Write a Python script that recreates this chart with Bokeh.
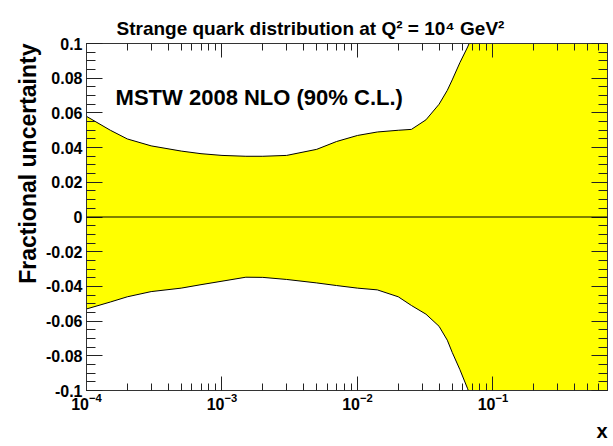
from bokeh.plotting import figure
from bokeh.models import (LogAxis, LinearAxis, FixedTicker, Title, Label, Span,
                          ColumnDataSource, Range1d)
from bokeh.embed import file_html
from bokeh.resources import INLINE

# ---- data ----
x_vals = [1e-4, 1.5e-4, 2e-4, 3e-4, 5e-4, 7e-4, 1e-3, 1.5e-3, 2e-3, 3e-3, 5e-3, 7e-3,
          1e-2, 1.4e-2, 2e-2, 2.5e-2, 3.2e-2, 4e-2, 4.6e-2, 5e-2, 5.7e-2, 6.5e-2, 7e-2,
          0.1, 0.2, 0.4, 0.7]
upper = [0.058, 0.050, 0.045, 0.041, 0.038, 0.0365, 0.0355, 0.035, 0.035, 0.0355, 0.039, 0.0435,
         0.047, 0.049, 0.050, 0.0505, 0.056, 0.065, 0.073, 0.079, 0.089, 0.098, 0.104,
         0.16, 0.30, 0.50, 0.80]
lower = [-0.053, -0.049, -0.046, -0.043, -0.041, -0.039, -0.037, -0.0347, -0.0348, -0.036, -0.038, -0.0395,
         -0.041, -0.042, -0.046, -0.051, -0.056, -0.063, -0.071, -0.078, -0.088, -0.099, -0.106,
         -0.16, -0.30, -0.50, -0.80]

y_major = [-0.1, -0.08, -0.06, -0.04, -0.02, 0.0, 0.02, 0.04, 0.06, 0.08, 0.1]
y_labels = ["-0.1", "-0.08", "-0.06", "-0.04", "-0.02", "0", "0.02", "0.04", "0.06", "0.08", "0.1"]
x_major = [1e-4, 1e-3, 1e-2, 1e-1]

title_text = "Strange quark distribution at Q\u00b2 = 10\u2074 GeV\u00b2"
ylabel_text = "Fractional uncertainty"
xlabel_text = "x"
note_text = "MSTW 2008 NLO (90% C.L.)"

FONT = "Liberation Sans"

y_minor = [round(-0.1 + 0.005 * i, 4) for i in range(41)]
x_minor = [m * d for d in [1e-4, 1e-3, 1e-2, 1e-1] for m in range(2, 10) if m * d <= 0.7]

p = figure(width=613, height=446, x_axis_type="log",
           x_range=Range1d(1e-4, 0.7), y_range=Range1d(-0.1, 0.1),
           output_backend="svg", toolbar_location=None,
           min_border_left=86, min_border_right=6, min_border_top=43, min_border_bottom=51)
p.xgrid.visible = False
p.ygrid.visible = False
p.outline_line_color = "#333333"
p.outline_line_width = 1
p.background_fill_color = "white"
p.border_fill_color = "white"

src = ColumnDataSource(dict(x=x_vals, up=upper, lo=lower))
p.varea(x="x", y1="lo", y2="up", source=src, fill_color="#FFFF00")
p.line(x="x", y="up", source=src, line_color="black", line_width=1)
p.line(x="x", y="lo", source=src, line_color="black", line_width=1)
p.add_layout(Span(location=0, dimension="width", line_color="black", line_width=1))

yt = FixedTicker(ticks=y_major, minor_ticks=y_minor)
xt = FixedTicker(ticks=x_major, minor_ticks=x_minor)

def style(ax, xaxis):
    ax.major_tick_in = 14 if xaxis else 16
    ax.major_tick_out = 0
    ax.minor_tick_in = 7 if xaxis else 9
    ax.minor_tick_out = 0
    ax.axis_line_color = "#333333"
    ax.major_tick_line_color = "#222222"
    ax.minor_tick_line_color = "#222222"
    ax.major_label_text_font = FONT
    ax.major_label_text_font_style = "bold"
    ax.major_label_text_font_size = "16px"
    ax.major_label_text_color = "black"

xa = p.xaxis[0]
xa.ticker = xt
style(xa, True)
xa.major_label_standoff = 2

ya = p.yaxis[0]
ya.ticker = yt
style(ya, False)
ya.major_label_overrides = {v: s for v, s in zip(y_major, y_labels)}
ya.major_label_standoff = 4

ra = LinearAxis(ticker=yt)
style(ra, False)
ra.major_label_text_font_size = "1px"
ra.major_label_text_color = None
ra.major_label_standoff = 0
p.add_layout(ra, "right")

ta = LogAxis(ticker=xt)
style(ta, True)
ta.major_label_text_font_size = "1px"
ta.major_label_text_color = None
ta.major_label_standoff = 0
p.add_layout(ta, "above")

p.title = Title(text=title_text, align="left", offset=30, text_font=FONT, text_font_style="bold",
                text_font_size="19px", text_color="black")
p.add_layout(Title(text=ylabel_text, align="right", text_font=FONT, text_font_style="bold",
                   text_font_size="23px", text_color="black", standoff=5), "left")
p.add_layout(Title(text=xlabel_text, align="right", text_font=FONT, text_font_style="bold",
                   text_font_size="20px", text_color="black"), "below")

p.add_layout(Label(x=1.64e-4, y=0.0688, text=note_text, text_font=FONT, text_font_style="bold",
                   text_font_size="22px", text_color="black", text_baseline="alphabetic"))

open("out.html", "w").write(file_html(p, INLINE))
